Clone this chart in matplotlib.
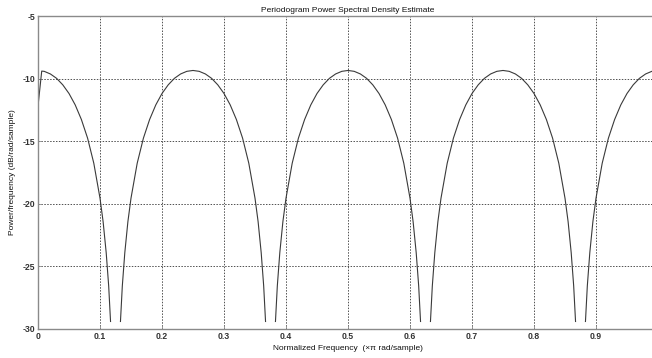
import numpy as np
import matplotlib
matplotlib.use("Agg")
import matplotlib.pyplot as plt

nan = np.nan

# Normalized frequency (x pi rad/sample), segments separated by NaN at the nulls
freq = [
    0.000, 0.006, 0.010, 0.020, 0.030, 0.040, 0.050, 0.060, 0.070, 0.080, 0.090, 0.100, 0.105, 0.110, 0.114, 0.117,
    nan,
    0.133, 0.136, 0.140, 0.145, 0.150, 0.160, 0.170, 0.180, 0.190, 0.200, 0.210, 0.220, 0.230, 0.240, 0.250,
    0.260, 0.270, 0.280, 0.290, 0.300, 0.310, 0.320, 0.330, 0.340, 0.350, 0.355, 0.360, 0.364, 0.367,
    nan,
    0.383, 0.386, 0.390, 0.395, 0.400, 0.410, 0.420, 0.430, 0.440, 0.450, 0.460, 0.470, 0.480, 0.490, 0.500,
    0.510, 0.520, 0.530, 0.540, 0.550, 0.560, 0.570, 0.580, 0.590, 0.600, 0.605, 0.610, 0.614, 0.617,
    nan,
    0.633, 0.636, 0.640, 0.645, 0.650, 0.660, 0.670, 0.680, 0.690, 0.700, 0.710, 0.720, 0.730, 0.740, 0.750,
    0.760, 0.770, 0.780, 0.790, 0.800, 0.810, 0.820, 0.830, 0.840, 0.850, 0.855, 0.860, 0.864, 0.867,
    nan,
    0.883, 0.886, 0.890, 0.895, 0.900, 0.910, 0.920, 0.930, 0.940, 0.950, 0.960, 0.970, 0.980, 0.990, 1.000,
]

# Power/frequency (dB/rad/sample)
psd = [
    -12.2, -9.40, -9.42, -9.63, -9.98, -10.50, -11.19, -12.10, -13.27, -14.76, -16.76, -19.55, -21.42, -23.91, -26.56, -29.4,
    nan,
    -29.4, -26.56, -23.91, -21.42, -19.55, -16.76, -14.76, -13.27, -12.10, -11.19, -10.50, -9.98, -9.63, -9.42, -9.35,
    -9.42, -9.63, -9.98, -10.50, -11.19, -12.10, -13.27, -14.76, -16.76, -19.55, -21.42, -23.91, -26.56, -29.4,
    nan,
    -29.4, -26.56, -23.91, -21.42, -19.55, -16.76, -14.76, -13.27, -12.10, -11.19, -10.50, -9.98, -9.63, -9.42, -9.35,
    -9.42, -9.63, -9.98, -10.50, -11.19, -12.10, -13.27, -14.76, -16.76, -19.55, -21.42, -23.91, -26.56, -29.4,
    nan,
    -29.4, -26.56, -23.91, -21.42, -19.55, -16.76, -14.76, -13.27, -12.10, -11.19, -10.50, -9.98, -9.63, -9.42, -9.35,
    -9.42, -9.63, -9.98, -10.50, -11.19, -12.10, -13.27, -14.76, -16.76, -19.55, -21.42, -23.91, -26.56, -29.4,
    nan,
    -29.4, -26.56, -23.91, -21.42, -19.55, -16.76, -14.76, -13.27, -12.10, -11.19, -10.50, -9.98, -9.63, -9.42, -9.35,
]

xticks = [0, 0.1, 0.2, 0.3, 0.4, 0.5, 0.6, 0.7, 0.8, 0.9]
xticklabels = ["0", "0.1", "0.2", "0.3", "0.4", "0.5", "0.6", "0.7", "0.8", "0.9"]
yticks = [-30, -25, -20, -15, -10, -5]
yticklabels = ["-30", "-25", "-20", "-15", "-10", "-5"]

plt.rcParams['font.family'] = ['Liberation Sans', 'DejaVu Sans']

W, H = 652, 358
fig = plt.figure(figsize=(W / 100, H / 100), dpi=100)
ax = fig.add_axes([38 / W, (H - 329) / H, (658 - 38) / W, (329 - 16) / H])

ax.plot(freq, psd, color='#3a3a3a', linewidth=0.8)

ax.set_xlim(0, 1)
ax.set_ylim(-30, -5)
ax.set_xticks(xticks)
ax.set_xticklabels(xticklabels)
ax.set_yticks(yticks)
ax.set_yticklabels(yticklabels)

ax.grid(True, linestyle=(0, (1.5, 1.5)), color='#505050', linewidth=0.7)
for s in ax.spines.values():
    s.set_color('#8a8a8a')
    s.set_linewidth(1.0)
ax.tick_params(direction='in', length=3, width=0.6, colors='#8a8a8a',
               labelcolor='#333333', labelsize=6.2, pad=2)
for lbl in ax.get_xticklabels() + ax.get_yticklabels():
    lbl.set_fontweight('bold')

ax.set_title('Periodogram Power Spectral Density Estimate', fontsize=6.0,
             color='#111111', pad=3)
ax.set_xlabel('Normalized Frequency  (\u00d7\u03c0 rad/sample)', fontsize=6.0,
              color='#111111', labelpad=3)
ax.set_ylabel('Power/frequency (dB/rad/sample)', fontsize=6.0,
              color='#111111', labelpad=5)

fig.savefig('out.png', dpi=100)
